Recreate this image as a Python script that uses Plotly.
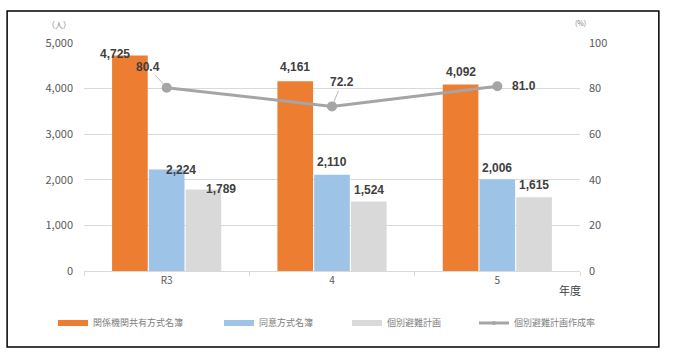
import plotly.graph_objects as go

categories = ["R3", "4", "5"]
kyoyu = [4725, 4161, 4092]        # 関係機関共有方式名簿
doi = [2224, 2110, 2006]          # 同意方式名簿
kobetsu = [1789, 1524, 1615]      # 個別避難計画
rate = [80.4, 72.2, 81.0]         # 個別避難計画作成率
names = ["関係機関共有方式名簿", "同意方式名簿", "個別避難計画", "個別避難計画作成率"]
left_ticks = [0, 1000, 2000, 3000, 4000, 5000]
right_ticks = [0, 20, 40, 60, 80, 100]

C_OR = "#ED7D31"
C_BL = "#9DC3E6"
C_GR = "#D9D9D9"
C_LN = "#A5A5A5"
JP = "Noto Sans CJK JP"
NUM = "Liberation Sans"

fig = go.Figure()
for vals, col in zip([kyoyu, doi, kobetsu], [C_OR, C_BL, C_GR]):
    fig.add_trace(go.Bar(x=categories, y=vals, marker=dict(color=col, line=dict(width=0)),
                         showlegend=False, hoverinfo="skip"))
fig.add_trace(go.Scatter(x=categories, y=rate, yaxis="y2", mode="lines+markers",
                         line=dict(color=C_LN, width=3), marker=dict(size=10, color=C_LN),
                         showlegend=False))

# legend-only entries, each in its own legend box
legend_ids = ["legend", "legend2", "legend3", "legend4"]
for nm, col, lg in zip(names[:3], [C_OR, C_BL, C_GR], legend_ids[:3]):
    fig.add_trace(go.Scatter(x=[categories[0]], y=[None], mode="lines", name=nm,
                             line=dict(color=col, width=6), legend=lg))
fig.add_trace(go.Scatter(x=[categories[0]], y=[None], mode="lines+markers", name=names[3],
                         line=dict(color=C_LN, width=3), marker=dict(size=4, color=C_LN),
                         legend=legend_ids[3]))

# bar value labels (x given as category index)
barw = 36.7
offsets = [-barw, 0, barw]
shifts = {
    0: [(-15, 2), (14, 0), (18, 0)],
    1: [(0, 14), (0, 13), (0, 12)],
    2: [(0, 12), (0, 12), (0, 12)],
}
lblfont = dict(family=NUM, size=12, color="#404040", weight="bold")
ann = []
for si, vals in enumerate([kyoyu, doi, kobetsu]):
    for ci, v in enumerate(vals):
        dx, dy = shifts[ci][si]
        ann.append(dict(x=ci, y=v, xref="x", yref="y", text=f"{v:,}",
                        showarrow=False, xshift=offsets[si] + dx, yshift=dy, font=lblfont))
line_lbl = [dict(ax=-19, ay=-21, arrow=True), dict(ax=10, ay=-24, arrow=True), dict(ax=27, ay=0, arrow=False)]
for ci, v in enumerate(rate):
    p = line_lbl[ci]
    if p["arrow"]:
        ann.append(dict(x=ci, y=v, xref="x", yref="y2", text=f"{v:.1f}",
                        showarrow=True, ax=p["ax"], ay=p["ay"], arrowhead=0, arrowwidth=0.8,
                        arrowcolor=C_LN, standoff=5, font=lblfont))
    else:
        ann.append(dict(x=ci, y=v, xref="x", yref="y2", text=f"{v:.1f}",
                        showarrow=False, xshift=p["ax"], font=lblfont))

ann += [
    dict(x=-0.022, y=1.115, xref="paper", yref="paper", text="（人）", showarrow=False,
         xanchor="right", font=dict(family=JP, size=8, color="#7F7F7F")),
    dict(x=1.0, y=1.12, xref="paper", yref="paper", text="(%)", showarrow=False,
         xanchor="center", font=dict(family=JP, size=7, color="#7F7F7F")),
    dict(x=0.98, y=-0.125, xref="paper", yref="paper", text="年度", showarrow=False,
         xanchor="center", font=dict(family=JP, size=11, color="#404040")),
]

leg_common = dict(orientation="h", y=-0.228, xanchor="left", yanchor="middle",
                  font=dict(family=JP, size=9, color="#808080"), itemwidth=30,
                  bgcolor="rgba(0,0,0,0)")
leg_x = [-0.0625, 0.2722, 0.5302, 0.7863]

fig.update_layout(
    width=682, height=363,
    margin=dict(l=84, r=102, t=43, b=92, autoexpand=False),
    paper_bgcolor="white", plot_bgcolor="white",
    barmode="group", bargap=0.333, bargroupgap=0.03,
    font=dict(family=JP, size=11, color="#595959"),
    xaxis=dict(type="category", range=[-0.5, 2.5], showline=True, linecolor=C_GR, linewidth=1,
               ticks="outside", tickson="boundaries", ticklen=4, tickcolor=C_GR,
               tickfont=dict(family=JP, size=10, color="#595959"), showgrid=False),
    yaxis=dict(range=[0, 5000], tickvals=left_ticks, tickformat=",d", showgrid=True,
               gridcolor=C_GR, gridwidth=1, zeroline=False, ticks="", ticklabelstandoff=10,
               tickfont=dict(family=JP, size=11, color="#595959")),
    yaxis2=dict(range=[0, 100], tickvals=right_ticks, overlaying="y", side="right",
                showgrid=False, zeroline=False, ticks="", ticklabelstandoff=8,
                tickfont=dict(family=JP, size=11, color="#595959")),
    legend=dict(x=leg_x[0], **leg_common),
    legend2=dict(x=leg_x[1], **leg_common),
    legend3=dict(x=leg_x[2], **leg_common),
    legend4=dict(x=leg_x[3], **leg_common),
    annotations=ann,
    shapes=[dict(type="rect", xref="paper", yref="paper", x0=-0.155, x1=1.159,
                 y0=-0.333, y1=1.140, line=dict(color="black", width=1.5))],
    showlegend=True,
)

fig.write_html("out.html", config={"displayModeBar": False},
               post_script="document.body.style.margin='0';")
